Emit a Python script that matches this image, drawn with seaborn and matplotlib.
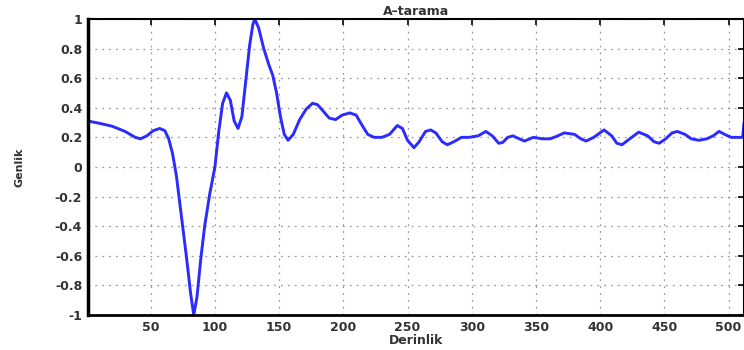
import matplotlib
matplotlib.use("Agg")
import matplotlib.pyplot as plt
import seaborn as sns
import pandas as pd

depth = [1, 10, 20, 30, 38, 42, 47, 52, 57, 61, 64, 67, 70, 74, 78, 81, 83.5, 86, 89, 92,
         96, 100, 103, 106, 109, 112, 115, 118, 121, 124, 127, 129.5, 131, 134, 138, 142,
         145, 148, 151, 154, 157, 161, 166, 171, 176, 180, 184, 189, 194, 199, 205, 210,
         214, 219, 224, 230, 236, 242, 246, 250, 255, 259, 264, 268, 272, 277, 281, 286,
         292, 298, 305, 311, 316, 321, 324, 328, 332, 337, 341, 348, 355, 361, 367, 372,
         380, 385, 389, 395, 403, 409, 413, 417, 423, 430, 437, 442, 446, 451, 456, 460,
         466, 471, 477, 483, 488, 492.5, 497, 502, 506, 511, 512]
amplitude = [0.31, 0.295, 0.275, 0.24, 0.20, 0.19, 0.21, 0.245, 0.26, 0.245, 0.19, 0.09,
             -0.06, -0.34, -0.62, -0.85, -1.0, -0.88, -0.62, -0.40, -0.18, 0.0, 0.24, 0.43,
             0.50, 0.45, 0.31, 0.26, 0.34, 0.58, 0.82, 0.96, 1.0, 0.94, 0.80, 0.69, 0.62,
             0.50, 0.34, 0.22, 0.18, 0.22, 0.32, 0.39, 0.43, 0.42, 0.38, 0.33, 0.32, 0.35,
             0.365, 0.35, 0.29, 0.22, 0.20, 0.20, 0.22, 0.28, 0.26, 0.18, 0.13, 0.17, 0.24,
             0.25, 0.23, 0.17, 0.15, 0.17, 0.20, 0.20, 0.21, 0.24, 0.21, 0.16, 0.165, 0.20,
             0.21, 0.19, 0.175, 0.20, 0.19, 0.19, 0.21, 0.23, 0.22, 0.19, 0.175, 0.20, 0.25,
             0.21, 0.16, 0.15, 0.19, 0.235, 0.21, 0.17, 0.16, 0.19, 0.23, 0.24, 0.22, 0.19,
             0.18, 0.19, 0.21, 0.24, 0.22, 0.20, 0.20, 0.20, 0.30]

x_ticks = [50, 100, 150, 200, 250, 300, 350, 400, 450, 500]
y_ticks = [-1, -0.8, -0.6, -0.4, -0.2, 0, 0.2, 0.4, 0.6, 0.8, 1]
y_tick_labels = ["-1", "-0.8", "-0.6", "-0.4", "-0.2", "0", "0.2", "0.4", "0.6", "0.8", "1"]

sns.set_style("white")
plt.rcParams['font.family'] = ['DejaVu Sans']

df = pd.DataFrame({"Derinlik": depth, "Genlik": amplitude})

fig = plt.figure(figsize=(7.44, 3.5), dpi=100)
ax = fig.add_axes([0.118, 0.1, 0.882, 0.846])
sns.lineplot(data=df, x="Derinlik", y="Genlik", ax=ax, color="#2b2bff",
             linewidth=2.1, sort=False, estimator=None)

ax.set_xlim(1, 512)
ax.set_ylim(-1, 1)
ax.set_xticks(x_ticks)
ax.set_xticklabels([str(t) for t in x_ticks])
ax.set_yticks(y_ticks)
ax.set_yticklabels(y_tick_labels)
ax.grid(True, linestyle=(0, (1.5, 4)), color="#9a9a9a", linewidth=0.9)
ax.tick_params(direction="in", length=4, width=1.2, top=True, right=True,
               labelsize=9, colors="black", pad=4)
for lbl in ax.get_xticklabels() + ax.get_yticklabels():
    lbl.set_fontweight("bold")
    lbl.set_color("#333333")
for s in ax.spines.values():
    s.set_visible(True)
    s.set_color("black")
    s.set_linewidth(1.5)
ax.spines["left"].set_linewidth(2.5)
ax.spines["bottom"].set_linewidth(2.0)

ax.set_title("A\u2013tarama", fontsize=9, fontweight="bold", color="#333333", pad=3)
ax.set_xlabel("Derinlik", fontsize=9, fontweight="bold", color="#333333", labelpad=0)
ax.set_ylabel("Genlik", fontsize=8, fontweight="bold", color="#333333", labelpad=22)

fig.savefig("out.png", dpi=100)
